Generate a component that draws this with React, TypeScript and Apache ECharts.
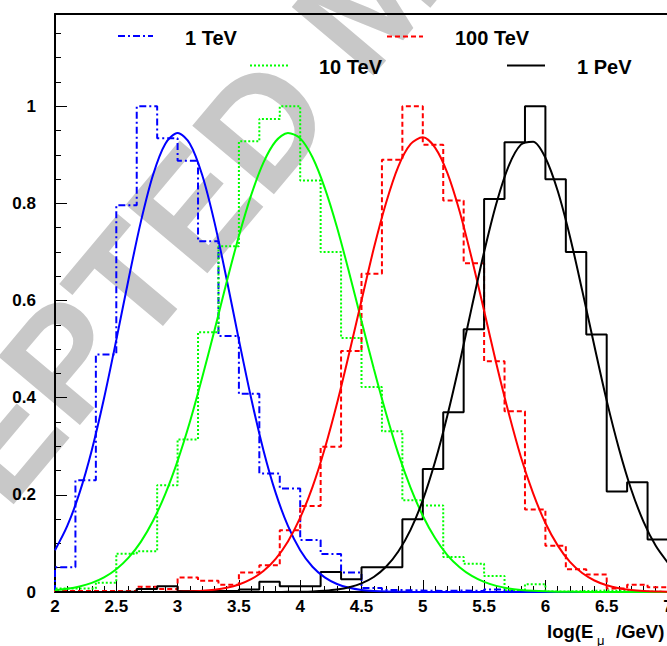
import React, { useEffect, useRef } from "react";
import * as echarts from "echarts";

// Histogram binning: 30 bins of width 1/6 from log(E)=2 to 7
const BIN_START = 2;
const BIN_WIDTH = 1 / 6;

const hist1TeV = [0.051, 0.23, 0.489, 0.796, 1.0, 0.934, 0.888, 0.722, 0.527, 0.408, 0.244, 0.213, 0.107, 0.078, 0.04, 0.008, 0.004, 0.003, 0.002, 0.003, 0.002, 0.005, 0.002, 0, 0, 0, 0, 0, 0, 0];
const hist10TeV = [0.007, 0.007, 0.019, 0.079, 0.084, 0.22, 0.314, 0.535, 0.712, 0.928, 0.974, 1.0, 0.847, 0.7, 0.523, 0.422, 0.331, 0.189, 0.178, 0.072, 0.058, 0.033, 0.003, 0.016, 0.001, 0.002, 0.003, 0.002, 0.001, 0];
const hist100TeV = [0.002, 0.002, 0.002, 0.002, 0.011, 0.006, 0.03, 0.023, 0.015, 0.04, 0.055, 0.127, 0.177, 0.299, 0.496, 0.655, 0.89, 1.0, 0.921, 0.806, 0.677, 0.475, 0.372, 0.17, 0.095, 0.047, 0.036, 0.007, 0.015, 0.01];
const hist1PeV = [0, 0, 0, 0.001, 0.006, 0.012, 0.002, 0.002, 0.002, 0.005, 0.021, 0.012, 0.012, 0.041, 0.026, 0.051, 0.051, 0.15, 0.253, 0.37, 0.541, 0.809, 0.926, 1.0, 0.85, 0.7, 0.53, 0.207, 0.226, 0.108];

// Fitted curves sampled every 0.1 from 2.0 to 7.0
const FIT_X_START = 2;
const FIT_X_STEP = 0.1;
const fit1TeV = [0.086, 0.136, 0.204, 0.292, 0.399, 0.519, 0.644, 0.762, 0.859, 0.923, 0.945, 0.923, 0.859, 0.762, 0.644, 0.519, 0.399, 0.292, 0.204, 0.136, 0.086, 0.052, 0.03, 0.0165, 0.0087, 0.0043, 0.0021, 0.0009, 0.0004, 0.0002, 0.0001, 0, 0, 0, 0, 0, 0, 0, 0, 0, 0, 0, 0, 0, 0, 0, 0, 0, 0, 0, 0];
const fit10TeV = [0.0038, 0.0067, 0.0114, 0.0187, 0.0301, 0.0468, 0.0706, 0.1033, 0.1467, 0.202, 0.27, 0.35, 0.441, 0.538, 0.638, 0.733, 0.817, 0.884, 0.928, 0.945, 0.934, 0.895, 0.832, 0.751, 0.657, 0.558, 0.46, 0.368, 0.285, 0.215, 0.157, 0.111, 0.076, 0.051, 0.033, 0.0207, 0.0126, 0.0074, 0.0043, 0.0024, 0.0013, 0.0007, 0.0004, 0.0002, 0.0001, 0, 0, 0, 0, 0, 0];
const fit100TeV = [0, 0, 0, 0, 0, 0, 0.0001, 0.0001, 0.0002, 0.0003, 0.0006, 0.0013, 0.0025, 0.0048, 0.0087, 0.0154, 0.0263, 0.0431, 0.0682, 0.104, 0.153, 0.216, 0.295, 0.388, 0.492, 0.6, 0.707, 0.801, 0.876, 0.922, 0.936, 0.915, 0.863, 0.784, 0.686, 0.579, 0.47, 0.369, 0.278, 0.203, 0.142, 0.096, 0.062, 0.039, 0.0237, 0.0138, 0.0078, 0.0042, 0.0022, 0.0011, 0.0005];
const fit1PeV = [0, 0, 0, 0, 0, 0, 0, 0, 0, 0, 0, 0, 0, 0, 0, 0, 0, 0, 0.0001, 0.0003, 0.0006, 0.0012, 0.0026, 0.0051, 0.0097, 0.0177, 0.0309, 0.0519, 0.0834, 0.128, 0.189, 0.268, 0.363, 0.471, 0.587, 0.7, 0.8, 0.877, 0.921, 0.927, 0.894, 0.826, 0.732, 0.621, 0.506, 0.394, 0.295, 0.211, 0.145, 0.095, 0.06];

const seriesNames = ["1 TeV", "10 TeV", "100 TeV", "1 PeV"];
const seriesColors = ["#0000ff", "#00ff00", "#ff0000", "#000000"];
const seriesDash: (number[] | "solid")[] = [[7, 3, 2, 3], [2, 2], [5, 3], "solid"];

const X_MIN = 2;
const X_MAX = 7;
const Y_MIN = 0;
const Y_MAX = 1.19;

const FONT = '"Liberation Sans", Arial, Helvetica, sans-serif';

function histPoints(values: number[]) {
  const pts: number[][] = [[BIN_START, 0]];
  values.forEach((v, i) => pts.push([BIN_START + i * BIN_WIDTH, v]));
  pts.push([BIN_START + values.length * BIN_WIDTH, 0]);
  return pts;
}

function fitPoints(values: number[]) {
  return values.map((v, i) => [Number((FIT_X_START + i * FIT_X_STEP).toFixed(2)), v]);
}

function txt(text: string, x: number, y: number, size: number, weight = "bold") {
  return {
    type: "text",
    x,
    y,
    z: 100,
    style: {
      text,
      fill: "#000",
      font: `${weight} ${size}px ${FONT}`,
      align: "left",
      verticalAlign: "middle",
      textAlign: "left",
      textVerticalAlign: "middle",
    },
  };
}

function legendLine(x1: number, x2: number, y: number, idx: number) {
  const dash = seriesDash[idx];
  return {
    type: "line",
    z: 100,
    shape: { x1, y1: y, x2, y2: y },
    style: {
      stroke: seriesColors[idx],
      lineWidth: 2,
      lineDash: dash === "solid" ? null : dash,
    },
  };
}

export default function App() {
  const ref = useRef<HTMLDivElement>(null);

  useEffect(() => {
    if (!ref.current) return;
    const chart = echarts.init(ref.current, null, { renderer: "svg" });

    const hists = [hist1TeV, hist10TeV, hist100TeV, hist1PeV];
    const fits = [fit1TeV, fit10TeV, fit100TeV, fit1PeV];

    const series: any[] = [];
    hists.forEach((h, i) => {
      series.push({
        name: seriesNames[i],
        type: "line",
        step: "end",
        data: histPoints(h),
        symbol: "none",
        showSymbol: false,
        z: 2,
        lineStyle: { color: seriesColors[i], width: 2, type: seriesDash[i] },
        silent: true,
      });
    });
    fits.forEach((f, i) => {
      series.push({
        name: seriesNames[i] + " fit",
        type: "line",
        smooth: 0.3,
        data: fitPoints(f),
        symbol: "none",
        showSymbol: false,
        z: 3,
        lineStyle: { color: seriesColors[i], width: 2, type: "solid" },
        silent: true,
      });
    });

    const axisLabelStyle = { fontSize: 17, fontWeight: "bold", color: "#000", fontFamily: FONT };

    chart.setOption({
      animation: false,
      backgroundColor: "#ffffff",
      grid: { left: 55, top: 14, width: 613, height: 578 },
      xAxis: [
        {
          type: "value",
          min: X_MIN,
          max: X_MAX,
          interval: 0.5,
          position: "bottom",
          axisLine: { show: true, onZero: false, lineStyle: { color: "#000", width: 2 } },
          axisTick: { show: true, inside: true, length: 12, lineStyle: { color: "#000", width: 1 } },
          minorTick: { show: true, splitNumber: 5, length: 6, lineStyle: { color: "#000", width: 1 } },
          axisLabel: { ...axisLabelStyle, margin: 6 },
          splitLine: { show: false },
          minorSplitLine: { show: false },
        },
        {
          type: "value",
          min: X_MIN,
          max: X_MAX,
          position: "top",
          axisLine: { show: true, onZero: false, lineStyle: { color: "#000", width: 2 } },
          axisTick: { show: false },
          axisLabel: { show: false },
          splitLine: { show: false },
        },
      ],
      yAxis: [
        {
          type: "value",
          min: Y_MIN,
          max: Y_MAX,
          interval: 0.2,
          position: "left",
          axisLine: { show: true, onZero: false, lineStyle: { color: "#000", width: 2 } },
          axisTick: { show: true, inside: true, length: 12, lineStyle: { color: "#000", width: 1 } },
          axisLabel: { ...axisLabelStyle, margin: 19, showMaxLabel: false },
          splitLine: { show: false },
        },
        {
          type: "value",
          min: Y_MIN,
          max: Y_MAX,
          interval: 0.05,
          position: "left",
          axisLine: { show: false },
          axisTick: { show: true, inside: true, length: 6, lineStyle: { color: "#000", width: 1 } },
          axisLabel: { show: false },
          splitLine: { show: false },
        },
      ],
      series,
      graphic: {
        elements: [
          {
            type: "text",
            x: -250,
            y: 735,
            rotation: (50 * Math.PI) / 180,
            z: -10,
            silent: true,
            style: {
              text: "ACCEPTED MANUSCRIPT",
              fill: "#c8c8c8",
              font: `bold 155px ${FONT}`,
              align: "left",
              verticalAlign: "middle",
              textAlign: "left",
              textVerticalAlign: "middle",
            },
          },
          legendLine(118, 153, 36, 0),
          txt(seriesNames[0], 185, 37.5, 20),
          legendLine(387, 423, 36.5, 2),
          txt(seriesNames[2], 455, 37.5, 20),
          legendLine(250, 288, 65.5, 1),
          txt(seriesNames[1], 319, 66.5, 20),
          legendLine(507, 545, 65.5, 3),
          txt(seriesNames[3], 577, 66.5, 20),
          txt("log(E", 547, 631, 18.5),
          txt("\u03bc", 597, 640, 13, "normal"),
          txt("/GeV)", 616, 631, 18.5),
        ],
      },
    });

    return () => chart.dispose();
  }, []);

  return (
    <div style={{ position: "absolute", left: 0, top: 0, width: 667, height: 646, overflow: "hidden", background: "#fff" }}>
      <div ref={ref} style={{ width: 700, height: 646 }} />
    </div>
  );
}
